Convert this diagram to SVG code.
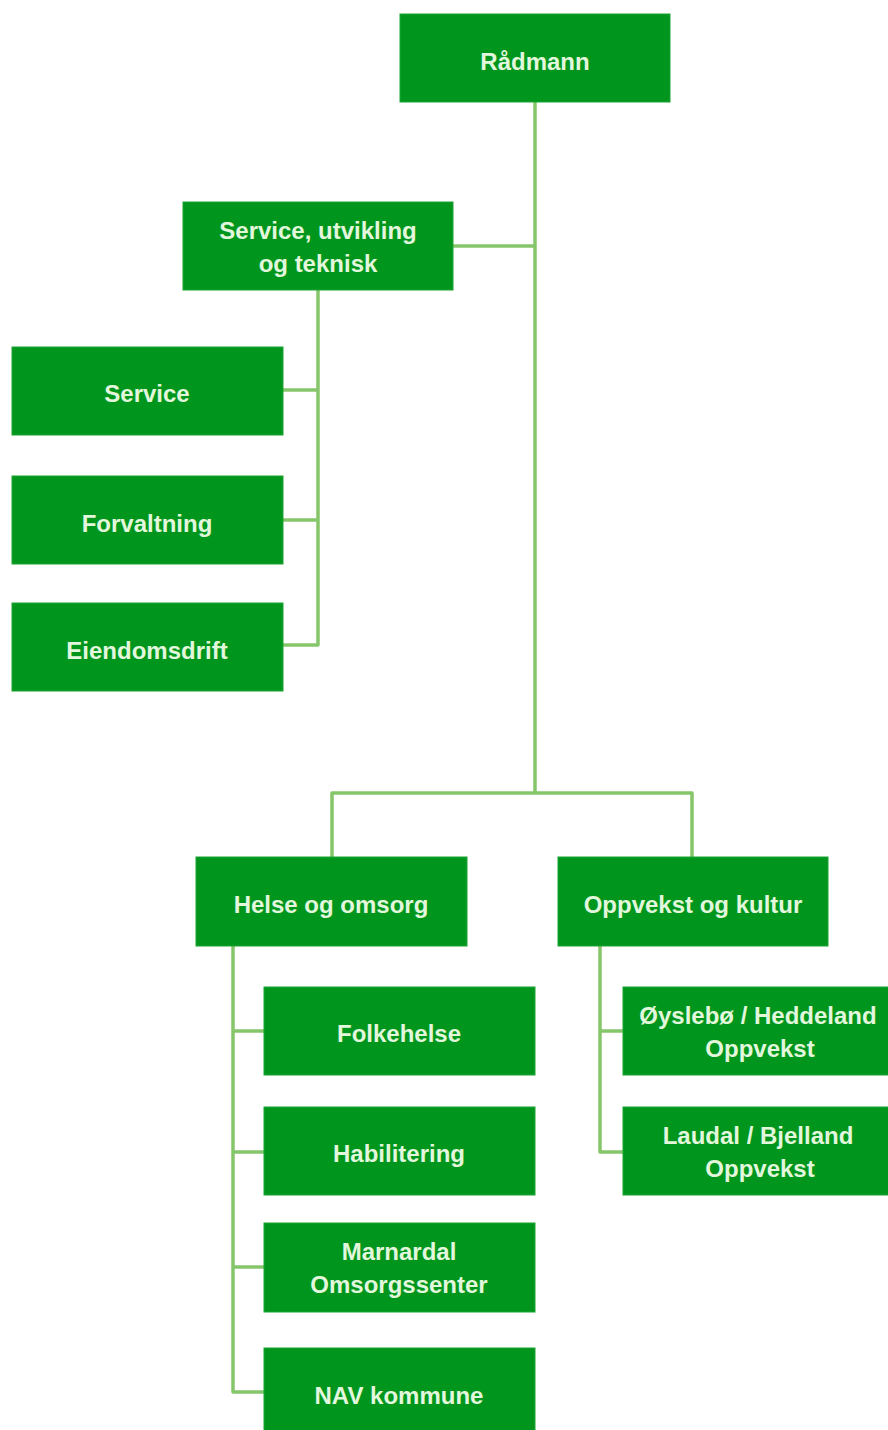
<svg xmlns="http://www.w3.org/2000/svg" width="888" height="1430" viewBox="0 0 888 1430">
<style>
.box{fill:#00961e;stroke:#1aa532;stroke-width:1}
.t{font-family:"Liberation Sans",Arial,sans-serif;font-weight:bold;font-size:24px;fill:#e2f7dc;text-anchor:middle}
.c{fill:none;stroke:#86c66a;stroke-width:3.5;stroke-linejoin:round}
</style>
<rect width="888" height="1430" fill="#ffffff"/>
<g id="connectors">
<path class="c" d="M535 102 V793"/>
<path class="c" d="M453 246 H535"/>
<path class="c" d="M318 290 V645 H283"/>
<path class="c" d="M283 390 H318"/>
<path class="c" d="M283 520 H318"/>
<path class="c" d="M332 857 V793 H692 V857"/>
<path class="c" d="M233 946 V1392 H264"/>
<path class="c" d="M233 1031 H264"/>
<path class="c" d="M233 1152 H264"/>
<path class="c" d="M233 1267 H264"/>
<path class="c" d="M600 946 V1152 H623"/>
<path class="c" d="M600 1031 H623"/>
</g>
<g id="radmann"><rect class="box" x="400" y="14" width="270" height="88"/><text class="t" x="535" y="70">Rådmann</text></g>
<g id="sut"><rect class="box" x="183" y="202" width="270" height="88"/><text class="t" x="318" y="239">Service, utvikling</text><text class="t" x="318" y="272">og teknisk</text></g>
<g id="service"><rect class="box" x="12" y="347" width="271" height="88"/><text class="t" x="147" y="402">Service</text></g>
<g id="forvaltning"><rect class="box" x="12" y="476" width="271" height="88"/><text class="t" x="147" y="532">Forvaltning</text></g>
<g id="eiendomsdrift"><rect class="box" x="12" y="603" width="271" height="88"/><text class="t" x="147" y="659">Eiendomsdrift</text></g>
<g id="helse"><rect class="box" x="196" y="857" width="271" height="89"/><text class="t" x="331" y="913">Helse og omsorg</text></g>
<g id="oppvekst"><rect class="box" x="558" y="857" width="270" height="89"/><text class="t" x="693" y="913">Oppvekst og kultur</text></g>
<g id="folkehelse"><rect class="box" x="264" y="987" width="271" height="88"/><text class="t" x="399" y="1042">Folkehelse</text></g>
<g id="habilitering"><rect class="box" x="264" y="1107" width="271" height="88"/><text class="t" x="399" y="1162">Habilitering</text></g>
<g id="marnardal"><rect class="box" x="264" y="1223" width="271" height="89"/><text class="t" x="399" y="1260">Marnardal</text><text class="t" x="399" y="1293">Omsorgssenter</text></g>
<g id="nav"><rect class="box" x="264" y="1348" width="271" height="90"/><text class="t" x="399" y="1404">NAV kommune</text></g>
<g id="oyslebo"><rect class="box" x="623" y="987" width="270" height="88"/><text class="t" x="758" y="1024">Øyslebø / Heddeland</text><text class="t" x="760" y="1057">Oppvekst</text></g>
<g id="laudal"><rect class="box" x="623" y="1107" width="270" height="88"/><text class="t" x="758" y="1144">Laudal / Bjelland</text><text class="t" x="760" y="1177">Oppvekst</text></g>
</svg>
